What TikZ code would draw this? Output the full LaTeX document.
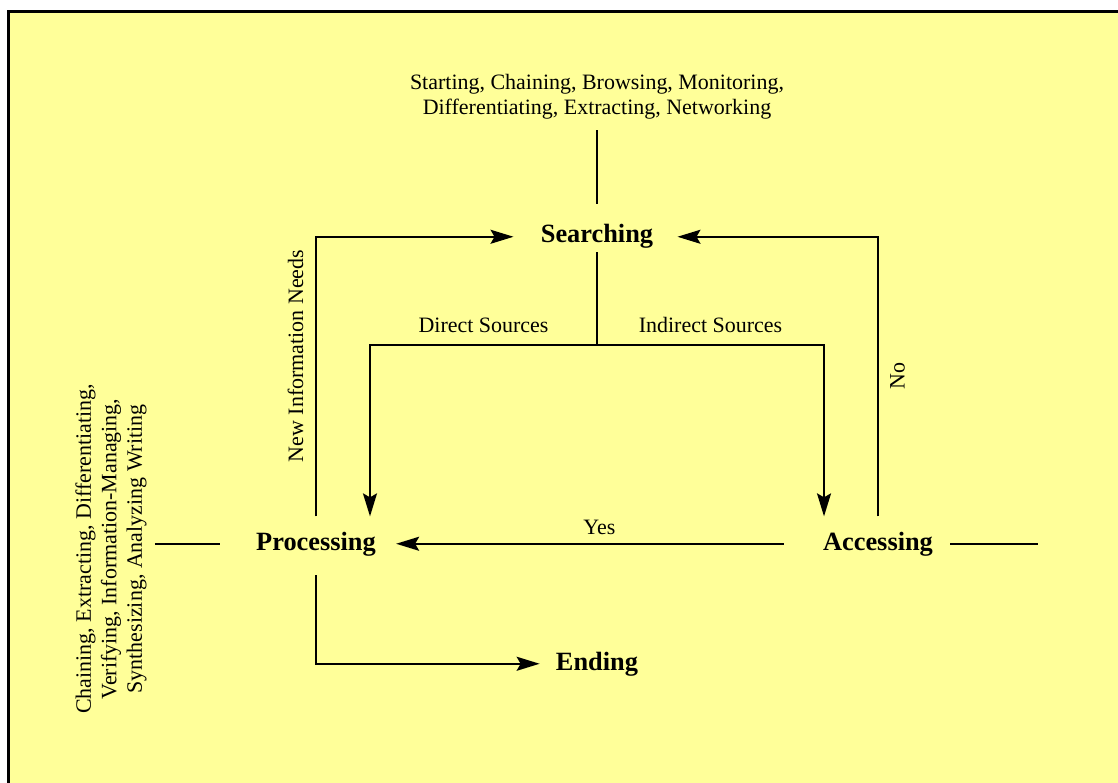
\documentclass[tikz,border=0pt]{standalone}
\usepackage{fontspec}
\setmainfont{Liberation Serif}
\usetikzlibrary{arrows.meta,positioning}
\definecolor{notepad}{RGB}{255,255,153}

\begin{document}
\begin{tikzpicture}[x=0.02cm, y=-0.02cm]
\tikzstyle{stage} = [font=\fontsize{15}{18}\selectfont\bfseries, inner sep=0pt]
\tikzstyle{tasklist} = [font=\fontsize{12.5}{14.5}\selectfont, align=center,
  inner sep=0pt]
\tikzstyle{edgelabel} = [font=\fontsize{12.5}{14.5}\selectfont, inner sep=0pt]
\tikzstyle{link} = [line width=1.1pt]
\tikzstyle{flow} = [link, -{Stealth[length=4.6mm, width=2.8mm, inset=0.8mm]}]

\useasboundingbox (0,0) rectangle (1118,783);
\fill[notepad] (7,10) rectangle (1118,783);
\draw[line width=0.06cm] (8.5,783) -- (8.5,11.5) -- (1118,11.5);

\node[stage, anchor=base] (search) at (597,243) {Searching};
\node[stage, anchor=base] (proc) at (316,550) {Processing};
\node[stage, anchor=base] (access) at (878,550) {Accessing};
\node[stage, anchor=base] (finish) at (597,670) {Ending};

\node[tasklist] (searchlist) at (597,97)
  {Starting, Chaining, Browsing, Monitoring,\\
   Differentiating, Extracting, Networking};
\node[tasklist, rotate=90] (proclist) at (111,549)
  {Chaining, Extracting, Differentiating,\\
   Verifying, Information-Managing,\\
   Synthesizing, Analyzing Writing};

\coordinate (split) at (597,345);
\coordinate (accessend) at (1038,545);

\draw[link, shorten <=0.2cm, shorten >=0.4cm] (searchlist) -- (search);
\draw[link, shorten <=0.06cm] (search) -- (split);

\draw[flow] (split) -| ([xshift=1.08cm, yshift=0.3cm]proc.north)
  node[edgelabel, pos=0.25, above=0.22cm] {Direct Sources};
\draw[flow] (split) -| ([xshift=-1.08cm, yshift=0.3cm]access.north)
  node[edgelabel, pos=0.25, above=0.22cm] {Indirect Sources};

\draw[flow] ([yshift=0.3cm]proc.north) |- ([xshift=-0.54cm]search.west);
\node[edgelabel, rotate=90] (needs) at (295.5,356) {New Information Needs};
\draw[flow] ([yshift=0.3cm]access.north) |- ([xshift=0.48cm]search.east);
\node[edgelabel, rotate=90] (nolabel) at (897.5,376) {No};

\draw[flow, shorten <=0.78cm, shorten >=0.4cm] (access) -- (proc)
  node[edgelabel, midway, above=0.17cm] {Yes};

\draw[link] (proclist.south |- proc.west) ++(8,0)
  -- ([xshift=-0.72cm]proc.west);
\draw[link] ([xshift=0.34cm]access.east) -- (accessend |- access.east);

\draw[flow] ([yshift=-0.38cm]proc.south) |- ([xshift=-0.32cm]finish.west);
\end{tikzpicture}
\end{document}
